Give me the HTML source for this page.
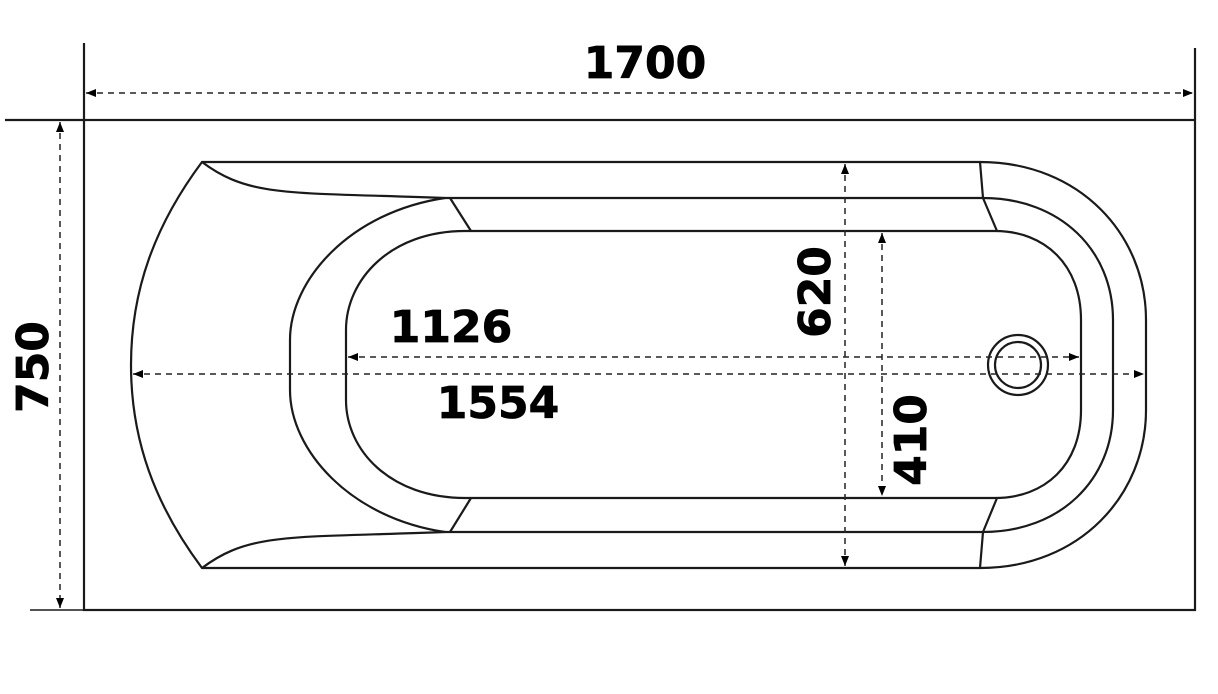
<!DOCTYPE html>
<html><head><meta charset="utf-8"><style>html,body{margin:0;padding:0;background:#fff}svg{display:block}</style></head>
<body>
<svg width="1218" height="694" viewBox="0 0 1218 694" xmlns="http://www.w3.org/2000/svg">
<defs>
<marker id="a" viewBox="0 0 10 10" refX="10" refY="5" markerWidth="11" markerHeight="10" orient="auto-start-reverse" markerUnits="userSpaceOnUse"><path d="M0,1 L10,5 L0,9 Z" fill="#000"/></marker>
</defs>
<g fill="none" stroke="#1a1a1a" stroke-width="2.2">
<rect x="84" y="120" width="1111" height="490"/>
<line x1="5" y1="120" x2="84" y2="120"/>
<line x1="84" y1="43" x2="84" y2="120"/>
<line x1="1195" y1="48" x2="1195" y2="120"/>
<line x1="30" y1="610" x2="84" y2="610" stroke-width="1.5"/>
<path d="M202,162 L980,162 C1080,162 1146,235 1146,320 L1146,410 C1146,495 1080,568 980,568 L202,568 C155,505 131,440 131,365 C131,290 155,225 202,162 Z"/>
<path d="M202,162 C250,198 290,192 445,198 L983,198 C1060,198 1113,250 1113,320 L1113,410 C1113,480 1060,532 983,532 L445,532 C290,538 250,532 202,568"/>
<path d="M445,198 C350,212 290,280 290,340 L290,390 C290,450 350,518 445,532"/>
<path d="M465,231 L995,231 C1045,231 1081,265 1081,320 L1081,410 C1081,465 1045,498 995,498 L465,498 C390,498 346,450 346,400 L346,330 C346,280 390,231 465,231 Z"/>
<line x1="450" y1="198" x2="471" y2="231"/>
<line x1="450" y1="532" x2="471" y2="498"/>
<line x1="980" y1="162" x2="983" y2="198"/>
<line x1="983" y1="198" x2="997" y2="231"/>
<line x1="980" y1="568" x2="983" y2="532"/>
<line x1="983" y1="532" x2="997" y2="498"/>
<circle cx="1018" cy="365" r="30"/>
<circle cx="1018" cy="365" r="23"/>
</g>
<g stroke="#222" stroke-width="1.5" stroke-dasharray="6,5" fill="none">
<line x1="86" y1="93" x2="1193" y2="93" marker-start="url(#a)" marker-end="url(#a)"/>
<line x1="60" y1="122" x2="60" y2="608" marker-start="url(#a)" marker-end="url(#a)"/>
<line x1="348" y1="357" x2="1079" y2="357" marker-start="url(#a)" marker-end="url(#a)"/>
<line x1="133" y1="374" x2="1144" y2="374" marker-start="url(#a)" marker-end="url(#a)"/>
<line x1="845" y1="164" x2="845" y2="566" marker-start="url(#a)" marker-end="url(#a)"/>
<line x1="882" y1="233" x2="882" y2="496" marker-start="url(#a)" marker-end="url(#a)"/>
</g>
<g font-family="'DejaVu Sans','Liberation Sans',sans-serif" font-weight="bold" font-size="44" fill="#000" text-anchor="middle" stroke="#000" stroke-width="0.8">
<text x="645" y="78">1700</text>
<text x="451" y="342">1126</text>
<text x="498" y="418">1554</text>
<text transform="translate(48,367) rotate(-90)">750</text>
<text transform="translate(830,292) rotate(-90)">620</text>
<text transform="translate(926,440) rotate(-90)">410</text>
</g>
</svg>
</body></html>
